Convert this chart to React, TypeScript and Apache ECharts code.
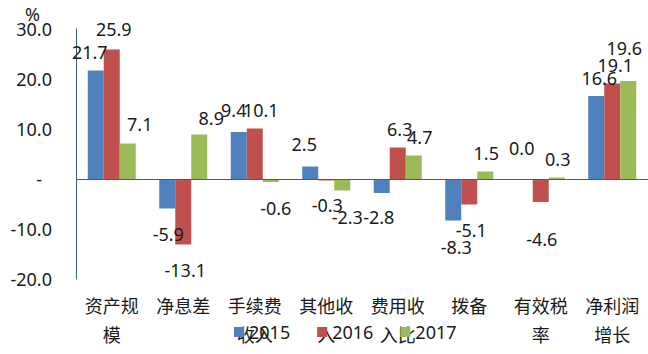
import React, { useEffect, useRef } from "react";
import * as echarts from "echarts";

const categories = ["资产规模", "净息差", "手续费收入", "其他收入", "费用收入比", "拨备", "有效税率", "净利润增长"];
const seriesNames = ["2015", "2016", "2017"];
const v2015 = [21.7, -5.9, 9.4, 2.5, -2.8, -8.3, 0.0, 16.6];
const v2016 = [25.9, -13.1, 10.1, -0.3, 6.3, -5.1, -4.6, 19.1];
const v2017 = [7.1, 8.9, -0.6, -2.3, 4.7, 1.5, 0.3, 19.6];
const yTicks = [-20, -10, 0, 10, 20, 30];

// label nudges (dx, dy) to mimic the manual label placement of the original
const nudge2015 = [[-6, 0], [1, 0], [-5, -3], [-6, -4], [-3, -1], [3, 1], [-3, -12], [3, 1]];
const nudge2016 = [[2, -2], [2, 0], [6, 0], [1, -1], [2, 0], [2, 0], [1, 12], [3, 0]];
const nudge2017 = [[12, -1], [12, 2], [5, 1], [5, 1], [6, 0], [1, 0], [1, 0], [-4, -14]];

const colors = ["#4F81BD", "#C0504D", "#9BBB59"];
const FONT = "'Noto Sans', 'Noto Sans CJK SC', sans-serif";

function buildData(vals: number[], nudges: number[][]) {
  return vals.map((v, i) => ({
    value: v,
    label: {
      position: v < 0 ? "bottom" : "top",
      distance: v < 0 ? 16 : 10,
      offset: nudges[i],
    },
  }));
}

export default function App() {
  const ref = useRef<HTMLDivElement>(null);
  useEffect(() => {
    document.body.style.margin = "0";
    const chart = echarts.init(ref.current!, null, { renderer: "svg" });
    const all = [v2015, v2016, v2017];
    const nud = [nudge2015, nudge2016, nudge2017];
    chart.setOption({
      animation: false,
      textStyle: { fontFamily: FONT },
      grid: { left: 76, right: 0, top: 29, bottom: 75, containLabel: false },
      legend: {
        data: seriesNames,
        left: 229,
        top: 318,
        itemWidth: 10,
        itemHeight: 10,
        itemGap: 27,
        icon: "rect",
        textStyle: { fontSize: 18, color: "#1a1a1a", fontFamily: FONT },
      },
      graphic: [
        {
          type: "text",
          left: 25,
          top: 5,
          style: { text: "%", fontSize: 18, fill: "#1a1a1a", fontFamily: FONT },
        },
      ],
      xAxis: {
        type: "category",
        data: categories,
        axisLine: { show: false },
        axisTick: { show: false },
        axisLabel: {
          interval: 0,
          margin: 12,
          fontSize: 18,
          lineHeight: 29,
          color: "#1a1a1a",
          fontFamily: FONT,
          formatter: (s: string) => (s.match(/.{1,3}/g) || [s]).join("\n"),
        },
      },
      yAxis: {
        type: "value",
        min: yTicks[0],
        max: yTicks[yTicks.length - 1],
        interval: 10,
        splitLine: { show: false },
        axisTick: { show: false },
        axisLine: { show: true, lineStyle: { color: "#3B5E8C", width: 1 } },
        axisLabel: {
          margin: 24,
          fontSize: 18,
          color: "#1a1a1a",
          fontFamily: FONT,
          formatter: (v: number) => (v === 0 ? "{z|-}" : v.toFixed(1)),
          rich: { z: { fontSize: 18, padding: [0, 10, 0, 0], color: "#1a1a1a" } },
        },
      },
      series: all.map((vals, si) => ({
        name: seriesNames[si],
        type: "bar",
        barWidth: 16,
        barGap: "0%",
        itemStyle: { color: colors[si] },
        label: {
          show: true,
          fontSize: 18,
          lineHeight: 18,
          color: "#1a1a1a",
          fontFamily: FONT,
          formatter: (p: any) => Number(p.value).toFixed(1),
        },
        data: buildData(vals, nud[si]),
        markLine:
          si === 0
            ? {
                silent: true,
                symbol: "none",
                label: { show: false },
                lineStyle: { color: "#3B5E8C", width: 1, type: "solid" },
                data: [{ yAxis: 0 }],
              }
            : undefined,
      })),
    });
    return () => chart.dispose();
  }, []);
  return <div ref={ref} style={{ width: 648, height: 354 }} />;
}
